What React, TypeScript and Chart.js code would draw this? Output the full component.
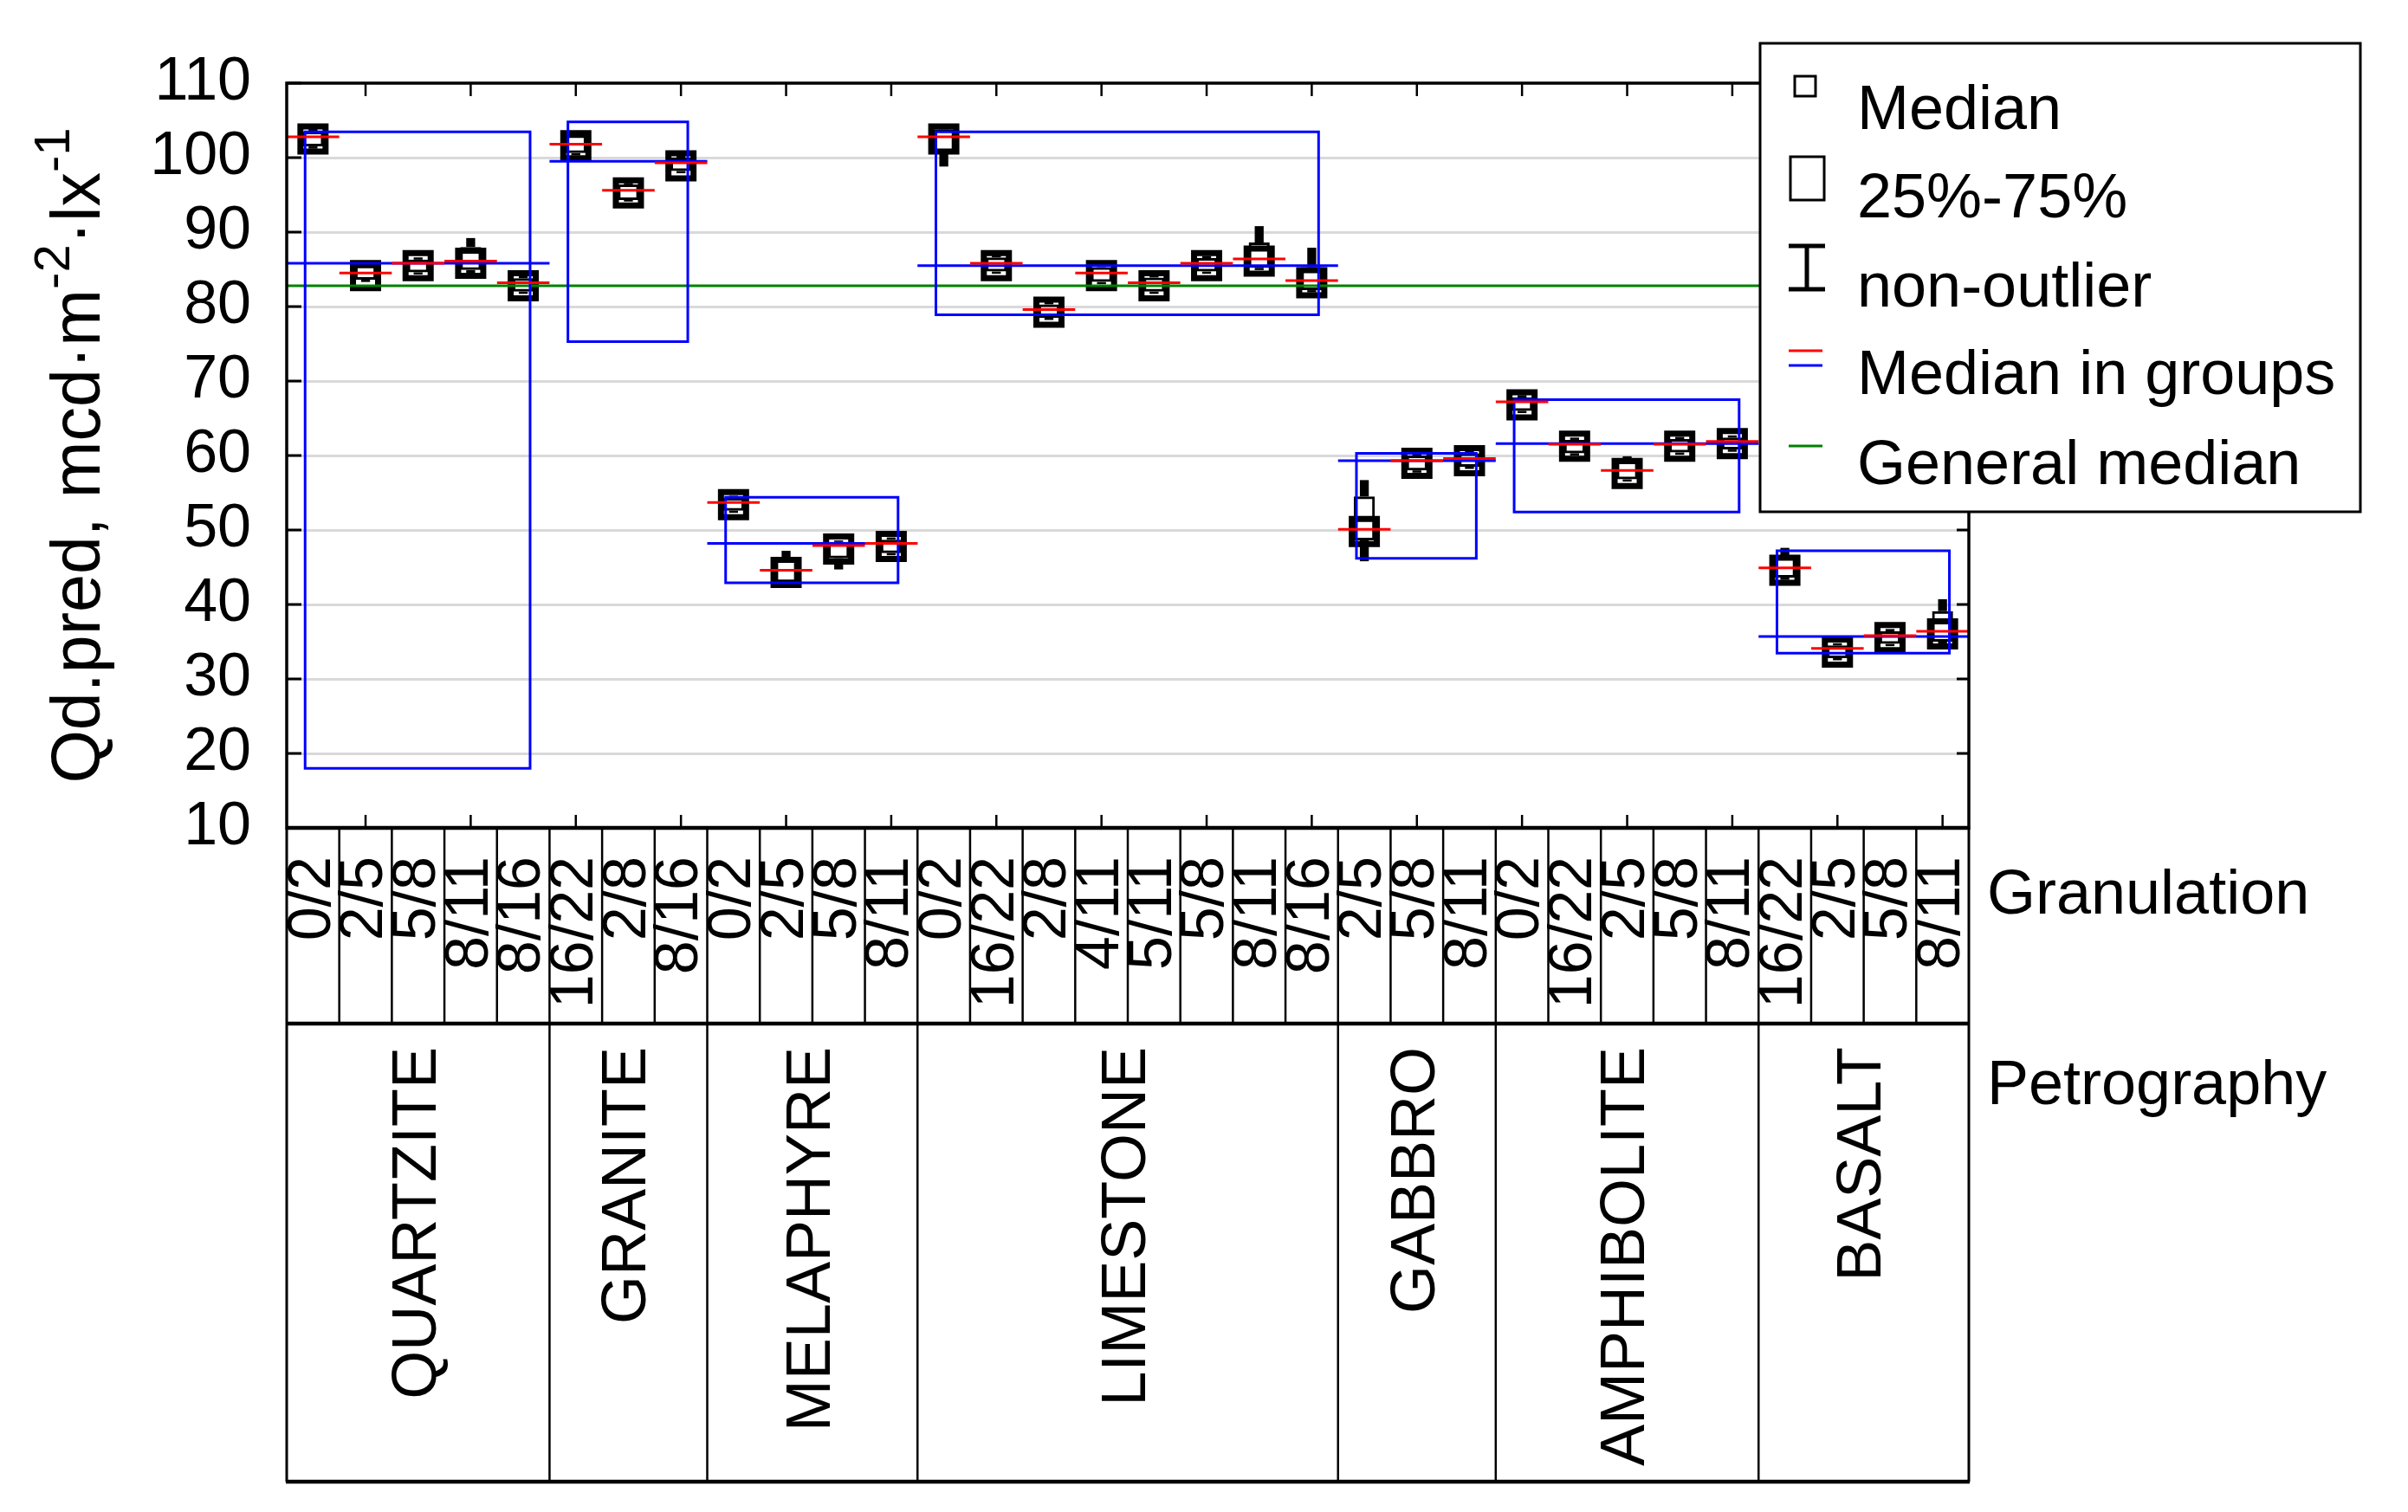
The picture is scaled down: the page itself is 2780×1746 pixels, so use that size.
import React, { useEffect, useRef } from 'react';
import { Chart, registerables } from 'chart.js';

Chart.register(...registerables);

// ---------- data ----------
const granulation = [
  '0/2', '2/5', '5/8', '8/11', '8/16',
  '16/22', '2/8', '8/16',
  '0/2', '2/5', '5/8', '8/11',
  '0/2', '16/22', '2/8', '4/11', '5/11', '5/8', '8/11', '8/16',
  '2/5', '5/8', '8/11',
  '0/2', '16/22', '2/5', '5/8', '8/11',
  '16/22', '2/5', '5/8', '8/11',
];
const petrography = ['QUARTZITE', 'GRANITE', 'MELAPHYRE', 'LIMESTONE', 'GABBRO', 'AMPHIBOLITE', 'BASALT'];
const groupSizes = [5, 3, 4, 8, 3, 5, 4];

const medians = [
  102.5, 84.15, 85.5, 85.8, 82.8,
  101.6, 95.25, 98.9,
  53.4, 44.3, 47.45, 47.8,
  102.5, 85.5, 79.25, 84.15, 82.8, 85.5, 86.1, 83.2,
  49.8, 58.95, 59.3,
  66.8, 61.25, 57.6, 61.25, 61.6,
  44.6, 33.6, 35.55, 36.05,
];
const categoryMedians = [
  102.8, 84.5, 85.8, 86.1, 83.2,
  101.8, 95.6, 99.3,
  53.7, 44.6, 47.9, 48.2,
  102.8, 85.8, 79.6, 84.5, 83.2, 85.8, 86.4, 83.5,
  50.1, 59.3, 59.6,
  67.2, 61.5, 58.0, 61.5, 61.9,
  44.9, 34.1, 35.8, 36.4,
];
const q1 = [
  101.5, 83.6, 84.6, 84.9, 82.0,
  100.6, 94.3, 98.2,
  52.6, 43.0, 46.2, 46.9,
  100.8, 84.7, 78.5, 83.3, 82.0, 84.7, 85.2, 82.2,
  48.6, 58.0, 58.5,
  66.0, 60.3, 56.8, 60.4, 60.8,
  43.6, 32.8, 34.7, 35.0,
];
const q3 = [
  103.5, 85.5, 86.3, 88.0, 83.8,
  103.0, 96.4, 100.0,
  54.3, 46.3, 48.4, 48.7,
  103.8, 86.6, 80.3, 85.3, 83.9, 86.5, 88.6, 85.3,
  54.5, 60.0, 60.3,
  67.8, 62.1, 59.2, 62.2, 62.4,
  46.6, 34.5, 36.4, 39.1,
];
const whiskerMin = [
  101.2, 83.3, 84.3, 84.5, 81.7,
  100.3, 94.1, 97.9,
  52.3, 42.6, 44.7, 46.6,
  98.8, 84.4, 78.2, 83.0, 81.7, 84.4, 84.9, 81.9,
  45.8, 57.7, 58.2,
  65.7, 60.0, 56.5, 60.1, 60.5,
  43.3, 32.5, 34.4, 34.7,
];
const whiskerMax = [
  103.9, 85.8, 86.6, 89.2, 84.2,
  103.2, 96.6, 100.3,
  54.6, 47.2, 48.6, 49.0,
  104.0, 86.9, 80.6, 85.6, 84.2, 86.8, 90.8, 87.9,
  56.7, 60.3, 60.6,
  68.1, 62.4, 59.9, 62.5, 62.7,
  47.6, 34.8, 36.7, 40.7,
];
const groupMedians = [85.8, 99.5, 48.2, 85.5, 59.3, 61.6, 35.7];
const groupQ1 = [18.0, 75.3, 42.9, 78.9, 46.2, 52.4, 33.45];
const groupQ3 = [103.45, 104.8, 54.4, 103.45, 60.3, 67.5, 47.2];
const generalMedian = 82.8;
const legendLabels = ['Median', '25%-75%', 'non-outlier', 'Median in groups', 'General median'];
const yTitleParts = ['Qd.pred, mcd·m', '-2', '·lx', '-1'];

// ---------- derived ----------
const groupStart: number[] = [];
const groupEnd: number[] = [];
{
  let s = 0;
  groupSizes.forEach((n) => {
    groupStart.push(s);
    groupEnd.push(s + n - 1);
    s += n;
  });
}
const groupCenters = groupStart.map((s, k) => (s + groupEnd[k]) / 2);

const FONT = '"Liberation Sans", Arial, Helvetica, sans-serif';

const rectData: { x: number; y: number | null }[] = [];
const groupLineData: { x: number; y: number | null }[] = [];
petrography.forEach((_, k) => {
  const a = groupStart[k] - 0.15;
  const b = groupEnd[k] + 0.13;
  rectData.push(
    { x: a, y: groupQ1[k] },
    { x: a, y: groupQ3[k] },
    { x: b, y: groupQ3[k] },
    { x: b, y: groupQ1[k] },
    { x: a, y: groupQ1[k] },
    { x: a, y: groupQ3[k] },
    { x: a, y: null },
  );
  groupLineData.push(
    { x: groupStart[k] - 0.5, y: groupMedians[k] },
    { x: groupEnd[k] + 0.5, y: groupMedians[k] },
    { x: groupEnd[k] + 0.5, y: null },
  );
});

const decorPlugin = {
  id: 'decor',
  afterDraw(chart: any) {
    const { ctx, chartArea: ca, scales } = chart;
    const xs = scales.x;
    const x2 = scales.x2;
    const ys = scales.y;
    const line = (a: number, b: number, c: number, d: number) => {
      ctx.beginPath();
      ctx.moveTo(a, b);
      ctx.lineTo(c, d);
      ctx.stroke();
    };
    ctx.save();
    ctx.strokeStyle = '#000';
    ctx.fillStyle = '#000';
    ctx.lineCap = 'butt';

    // plot border
    ctx.lineWidth = 3.5;
    ctx.strokeRect(ca.left, ca.top, ca.right - ca.left, ca.bottom - ca.top);

    // inward y ticks
    ctx.lineWidth = 3;
    for (let v = 10; v <= 110; v += 10) {
      const py = ys.getPixelForValue(v);
      line(ca.left, py, ca.left + 17, py);
      line(ca.right - 14, py, ca.right, py);
    }
    // inward x ticks (every other category)
    ctx.lineWidth = 2.5;
    granulation.forEach((_, i) => {
      if (i % 2 === 1) {
        const px = xs.getPixelForValue(i);
        line(px, ca.top, px, ca.top + 15);
        line(px, ca.bottom - 15, px, ca.bottom);
      }
    });

    // table
    const rTop = xs.top;
    const rMid = x2.top;
    const rBot = x2.bottom;
    ctx.lineWidth = 2.5;
    for (let i = 0; i < granulation.length - 1; i++) {
      const px = x2.getPixelForValue(i + 0.5);
      line(px, rTop, px, rMid);
    }
    for (let k = 1; k < petrography.length; k++) {
      const px = x2.getPixelForValue(groupStart[k] - 0.5);
      line(px, rMid, px, rBot);
    }
    ctx.lineWidth = 3;
    line(ca.left, rTop, ca.left, rBot);
    line(ca.right, rTop, ca.right, rBot);
    ctx.lineWidth = 4.5;
    line(ca.left - 1, rTop, ca.right + 1, rTop);
    line(ca.left - 1, rMid, ca.right + 1, rMid);
    line(ca.left - 1, rBot, ca.right + 1, rBot);

    // row titles
    ctx.font = `72px ${FONT}`;
    ctx.textAlign = 'left';
    ctx.textBaseline = 'alphabetic';
    ctx.fillText('Granulation', ca.right + 21, rTop + 99);
    ctx.fillText('Petrography', ca.right + 21, rMid + 93);

    // y-axis title with superscripts
    const mainF = `79px ${FONT}`;
    const supF = `58px ${FONT}`;
    const widths = yTitleParts.map((t, i) => {
      ctx.font = i % 2 === 0 ? mainF : supF;
      return ctx.measureText(t).width;
    });
    const total = widths.reduce((a, b) => a + b, 0);
    const cy = (ca.top + ca.bottom) / 2;
    ctx.save();
    ctx.translate(115, cy + total / 2);
    ctx.rotate(-Math.PI / 2);
    let tx = 0;
    yTitleParts.forEach((t, i) => {
      ctx.font = i % 2 === 0 ? mainF : supF;
      ctx.fillText(t, tx, i % 2 === 0 ? 0 : -35);
      tx += widths[i];
    });
    ctx.restore();

    // legend
    const lx = ca.right - 241;
    const ly = ca.top - 46;
    ctx.fillStyle = '#fff';
    ctx.fillRect(lx, ly, 693, 541);
    ctx.lineWidth = 3;
    ctx.strokeStyle = '#000';
    ctx.strokeRect(lx, ly, 693, 541);
    ctx.fillStyle = '#000';
    ctx.lineWidth = 3;
    ctx.strokeRect(lx + 40, ly + 38, 24, 23);
    ctx.strokeRect(lx + 35, ly + 131, 39, 50);
    ctx.lineWidth = 5;
    line(lx + 54, ly + 234, lx + 54, ly + 284);
    line(lx + 33, ly + 234, lx + 75, ly + 234);
    line(lx + 33, ly + 284, lx + 75, ly + 284);
    ctx.lineWidth = 3;
    ctx.strokeStyle = '#ff0000';
    line(lx + 33, ly + 355, lx + 72, ly + 355);
    ctx.strokeStyle = '#0000ff';
    line(lx + 33, ly + 372, lx + 72, ly + 372);
    ctx.strokeStyle = '#008000';
    line(lx + 33, ly + 465, lx + 72, ly + 465);
    ctx.font = `72px ${FONT}`;
    const baselines = [99, 201, 304, 405, 509];
    legendLabels.forEach((t, i) => ctx.fillText(t, lx + 112, ly + baselines[i]));

    ctx.restore();
  },
};

export default function App() {
  const ref = useRef<HTMLCanvasElement>(null);
  useEffect(() => {
    document.body.style.margin = '0';
    document.body.style.overflow = 'hidden';
    const chart = new Chart(ref.current as HTMLCanvasElement, {
      type: 'bar',
      data: {
        labels: granulation,
        datasets: [
          {
            type: 'line',
            label: 'Median in groups (category)',
            data: categoryMedians,
            showLine: false,
            pointStyle: 'line',
            pointRadius: 30.3,
            pointBorderWidth: 3,
            pointBorderColor: '#ff0000',
            pointBackgroundColor: '#ff0000',
            xAxisID: 'x',
            yAxisID: 'y',
            order: 0,
          } as any,
          {
            type: 'line',
            label: 'Group median',
            data: groupLineData,
            borderColor: '#0000ff',
            borderWidth: 3,
            pointRadius: 0,
            spanGaps: false,
            xAxisID: 'x2',
            yAxisID: 'y',
            order: 1,
          } as any,
          {
            type: 'line',
            label: 'Group quartiles',
            data: rectData,
            borderColor: '#0000ff',
            borderWidth: 3,
            borderJoinStyle: 'miter',
            pointRadius: 0,
            spanGaps: false,
            xAxisID: 'x2',
            yAxisID: 'y',
            order: 2,
          } as any,
          {
            type: 'line',
            label: 'General median',
            data: [
              { x: -0.5, y: generalMedian },
              { x: granulation.length - 0.5, y: generalMedian },
            ],
            borderColor: '#008000',
            borderWidth: 3,
            pointRadius: 0,
            xAxisID: 'x2',
            yAxisID: 'y',
            order: 3,
          } as any,
          {
            type: 'line',
            label: 'Median',
            data: medians,
            showLine: false,
            pointStyle: 'rect',
            pointRadius: 20.5,
            pointBorderWidth: 7,
            pointBorderColor: '#000',
            pointBackgroundColor: 'rgba(0,0,0,0)',
            xAxisID: 'x',
            yAxisID: 'y',
            order: 4,
          } as any,
          {
            type: 'bar',
            label: 'upper whisker',
            data: q3.map((v, i) => [v, whiskerMax[i]]),
            backgroundColor: '#000',
            borderWidth: 0,
            barPercentage: 0.17,
            categoryPercentage: 1,
            grouped: false,
            xAxisID: 'x',
            yAxisID: 'y',
            order: 5,
          } as any,
          {
            type: 'bar',
            label: 'lower whisker',
            data: whiskerMin.map((v, i) => [v, q1[i]]),
            backgroundColor: '#000',
            borderWidth: 0,
            barPercentage: 0.17,
            categoryPercentage: 1,
            grouped: false,
            xAxisID: 'x',
            yAxisID: 'y',
            order: 5,
          } as any,
          {
            type: 'bar',
            label: '25%-75%',
            data: q1.map((v, i) => [v, q3[i]]),
            backgroundColor: 'rgba(0,0,0,0)',
            borderColor: '#000',
            borderWidth: 3,
            borderSkipped: false,
            barPercentage: 0.4,
            categoryPercentage: 1,
            grouped: false,
            xAxisID: 'x',
            yAxisID: 'y',
            order: 6,
          } as any,
        ],
      },
      options: {
        responsive: false,
        animation: false,
        devicePixelRatio: 1,
        events: [],
        layout: { padding: { left: 0, top: 96, right: 507, bottom: 35 } },
        plugins: { legend: { display: false }, tooltip: { enabled: false } },
        scales: {
          x: {
            type: 'category',
            position: 'bottom',
            offset: true,
            weight: 0,
            grid: { display: false, drawTicks: false },
            border: { display: false },
            ticks: {
              autoSkip: false,
              minRotation: 90,
              maxRotation: 90,
              padding: 33,
              color: '#000',
              font: { family: FONT, size: 70 },
            },
            afterFit: (s: any) => {
              s.height = 226;
            },
          },
          x2: {
            type: 'linear',
            position: 'bottom',
            offset: false,
            bounds: 'data',
            min: -0.5,
            max: granulation.length - 0.5,
            weight: 1,
            grid: { display: false, drawTicks: false, offset: false },
            border: { display: false },
            afterBuildTicks: (s: any) => {
              s.ticks = groupCenters.map((v) => ({ value: v }));
            },
            ticks: {
              autoSkip: false,
              minRotation: 90,
              maxRotation: 90,
              padding: 27,
              color: '#000',
              font: { family: FONT, size: 72 },
              callback: (v: any) => {
                const k = groupCenters.indexOf(Number(v));
                return k >= 0 ? petrography[k] : '';
              },
            },
            afterFit: (s: any) => {
              s.height = 529;
            },
          },
          y: {
            type: 'linear',
            position: 'left',
            min: 10,
            max: 110,
            grid: { color: '#d9d9d9', lineWidth: 3, drawTicks: false },
            border: { display: false },
            ticks: {
              stepSize: 10,
              autoSkip: false,
              padding: 41,
              color: '#000',
              font: { family: FONT, size: 70 },
            },
            afterFit: (s: any) => {
              s.width = 331;
            },
          },
        },
      } as any,
      plugins: [decorPlugin],
    });
    return () => chart.destroy();
  }, []);
  return (
    <div style={{ width: 2780, height: 1746, background: '#fff' }}>
      <canvas ref={ref} width={2780} height={1746} style={{ display: 'block' }} />
    </div>
  );
}
